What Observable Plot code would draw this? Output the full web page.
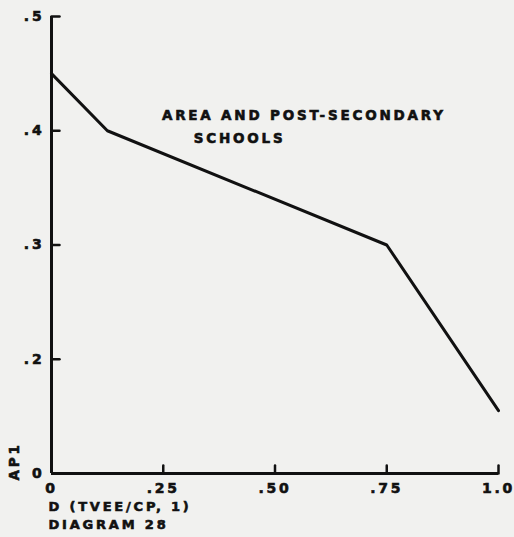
<!DOCTYPE html>
<html>
<head>
<meta charset="utf-8">
<script src="https://cdn.jsdelivr.net/npm/d3@7"></script>
<script src="https://cdn.jsdelivr.net/npm/@observablehq/plot@0.6"></script>
<style>
  html, body { margin: 0; padding: 0; background: #f1f1ef; }
  #chart svg { display: block; }
  #chart svg text { stroke: #111; stroke-width: 0.6px; paint-order: stroke; letter-spacing: 2.8px; }
</style>
</head>
<body>
<div id="chart"></div>
<script>
// Data (the lowest y value is drawn as the axis origin, labelled "0")
const xValues = [0, 0.125, 0.75, 1.0];
const yValues = [0.45, 0.40, 0.30, 0.155];

const xTicks = [0, 0.25, 0.5, 0.75, 1.0];
const xTickLabels = ["0", ".25", ".50", ".75", "1.0"];
const yTicks = [0.1, 0.2, 0.3, 0.4, 0.5];
const yTickLabels = ["0", ".2", ".3", ".4", ".5"];

const curveLabel1 = "AREA AND POST-SECONDARY";
const curveLabel2 = "SCHOOLS";
const yLabel = "AP1";
const xLabel1 = "D (TVEE/CP, 1)";
const xLabel2 = "DIAGRAM 28";

const pts = xValues.map((x, i) => ({x, y: yValues[i]}));
const ink = "#111";
const tickShape = {draw(ctx, l) { ctx.moveTo(0, 0); ctx.lineTo(0, -l); }};

const chart = Plot.plot({
  width: 514,
  height: 537,
  marginLeft: 51,
  marginRight: 16,
  marginTop: 16,
  marginBottom: 64,
  style: {background: "#f1f1ef", fontFamily: "DejaVu Sans", fontWeight: "bold", color: ink},
  x: {domain: [0, 1], ticks: xTicks},
  y: {domain: [0.1, 0.5], ticks: yTicks},
  marks: [
    Plot.axisX(xTicks, {tickSize: 0, tickPadding: 10, fontSize: 14, fontWeight: "bold", label: null,
      tickFormat: (d) => xTickLabels[xTicks.indexOf(d)]}),
    Plot.axisY(yTicks, {tickSize: 0, tickPadding: 7, fontSize: 14, fontWeight: "bold", label: null,
      tickFormat: (d) => yTickLabels[yTicks.indexOf(d)]}),
    Plot.vector(xTicks.slice(1), {x: (d) => d, y: yTicks[0], length: 8, anchor: "start", rotate: 0,
      shape: tickShape, stroke: ink, strokeWidth: 2.5}),
    Plot.vector(yTicks.slice(1), {x: xTicks[0], y: (d) => d, length: 8, anchor: "start", rotate: 90,
      shape: tickShape, stroke: ink, strokeWidth: 2.5}),
    Plot.ruleY([yTicks[0]], {stroke: ink, strokeWidth: 3}),
    Plot.ruleX([xTicks[0]], {stroke: ink, strokeWidth: 3}),
    Plot.line(pts, {x: "x", y: "y", stroke: ink, strokeWidth: 3, strokeLinejoin: "miter"}),
    Plot.text([curveLabel1], {x: 0.247, y: 0.413, text: (d) => d, textAnchor: "start",
      fontSize: 13.5, fontWeight: "bold", fill: ink}),
    Plot.text([curveLabel2], {x: 0.318, y: 0.393, text: (d) => d, textAnchor: "start",
      fontSize: 13.5, fontWeight: "bold", fill: ink}),
    Plot.text([yLabel], {frameAnchor: "bottom-left", dx: -33, dy: -12, rotate: -90, text: (d) => d,
      textAnchor: "middle", fontSize: 13.5, fontWeight: "bold", fill: ink}),
    Plot.text([xLabel1], {frameAnchor: "bottom-left", dx: -3, dy: 37, textAnchor: "start", text: (d) => d,
      fontSize: 13, fontWeight: "bold", fill: ink}),
    Plot.text([xLabel2], {frameAnchor: "bottom-left", dx: -3, dy: 55, textAnchor: "start", text: (d) => d,
      fontSize: 13, fontWeight: "bold", fill: ink})
  ]
});
document.getElementById("chart").appendChild(chart);
</script>
</body>
</html>
